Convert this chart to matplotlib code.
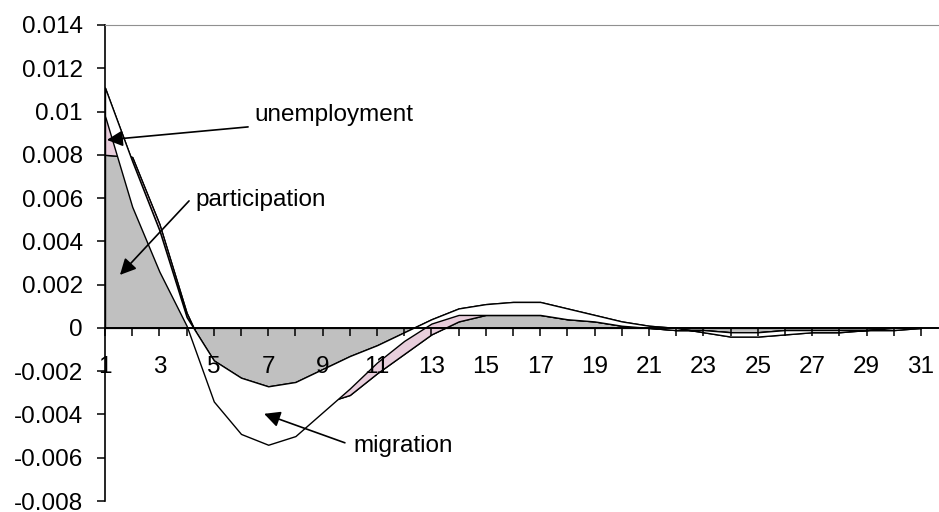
import numpy as np
import matplotlib.pyplot as plt
from matplotlib.ticker import FixedLocator, FuncFormatter

plt.rcParams['font.family'] = ['Liberation Sans', 'DejaVu Sans']

periods = np.arange(1, 32)

participation = [0.0080, 0.0079, 0.0048, 0.0007, -0.0020, -0.0028, -0.0033, -0.0035,
                 -0.0035, -0.0031, -0.0021, -0.0012, -0.0003, 0.0003, 0.0006, 0.0006,
                 0.0006, 0.0004, 0.0003, 0.0001, 0.0000, -0.0001, -0.0001, -0.0002,
                 -0.0002, -0.0001, -0.0001, -0.0001, -0.0001, 0.0000, 0.0000]
unemployment = [0.0031, -0.0002, -0.0003, -0.0002, 0.0005, 0.0005, 0.0006, 0.0010,
                0.0016, 0.0018, 0.0013, 0.0010, 0.0007, 0.0006, 0.0005, 0.0006,
                0.0006, 0.0005, 0.0003, 0.0002, 0.0001, 0.0001, -0.0001, -0.0002,
                -0.0002, -0.0002, -0.0001, -0.0001, 0.0000, -0.0001, 0.0000]
migration = [-0.0013, -0.0021, -0.0019, -0.0004, -0.0019, -0.0026, -0.0027, -0.0025,
             -0.0020, -0.0015, -0.0008, -0.0004, -0.0002, -0.0003, -0.0005, -0.0006,
             -0.0006, -0.0005, -0.0003, -0.0002, -0.0001, -0.0001, 0.0001, 0.0002,
             0.0002, 0.0002, 0.0001, 0.0001, 0.0000, 0.0001, 0.0000]

series = [participation, unemployment, migration]
colors = ['#C0C0C0', '#E8CEDC', '#FFFFFF']

fs = 17.5

fig = plt.figure(figsize=(9.39, 5.12), dpi=100)
ax = fig.add_axes([105/939, 1 - 501/512, (938 - 105)/939, (501 - 25)/512])

# excel style stacked area: each series filled from previous sum to new sum
lower = np.zeros(len(periods))
for vals, c in zip(series, colors):
    upper = lower + np.array(vals)
    ax.fill_between(periods, lower, upper, facecolor=c, edgecolor='black', lw=1.0)
    lower = upper

ax.set_xlim(1, 1 + (938 - 105)/27.2)
ax.set_ylim(-0.008, 0.014)

ax.spines['bottom'].set_position(('data', 0))
ax.spines['bottom'].set_zorder(5)
ax.spines['bottom'].set_linewidth(1.4)
ax.spines['left'].set_linewidth(1.2)
ax.spines['right'].set_visible(False)
ax.spines['top'].set_color('#909090')
ax.spines['top'].set_linewidth(0.8)

ax.xaxis.set_major_locator(FixedLocator(periods))
ax.set_xticklabels([str(p) if p % 2 == 1 else '' for p in periods])
ax.set_yticks(np.arange(-0.008, 0.0141, 0.002))
ax.yaxis.set_major_formatter(FuncFormatter(lambda v, pos: f'{round(v, 3):g}'))
ax.tick_params(axis='both', direction='out', length=6, width=1.1, labelsize=fs, colors='black')
ax.tick_params(axis='x', pad=14)
ax.tick_params(axis='y', pad=10)

arrow = dict(arrowstyle='-|>', color='black', lw=1.2, mutation_scale=24, shrinkA=0, shrinkB=0)
ax.text(6.51, 0.00984, 'unemployment', fontsize=fs, va='center', ha='left')
ax.annotate('', xy=(1.07, 0.00869), xytext=(6.26, 0.00929), arrowprops=arrow)
ax.text(4.31, 0.00592, 'participation', fontsize=fs, va='center', ha='left')
ax.annotate('', xy=(1.55, 0.00245), xytext=(4.09, 0.00587), arrowprops=arrow)
ax.text(10.12, -0.00545, 'migration', fontsize=fs, va='center', ha='left')
ax.annotate('', xy=(6.85, -0.00397), xytext=(9.82, -0.00531), arrowprops=arrow)

fig.savefig('out.png', dpi=100)
